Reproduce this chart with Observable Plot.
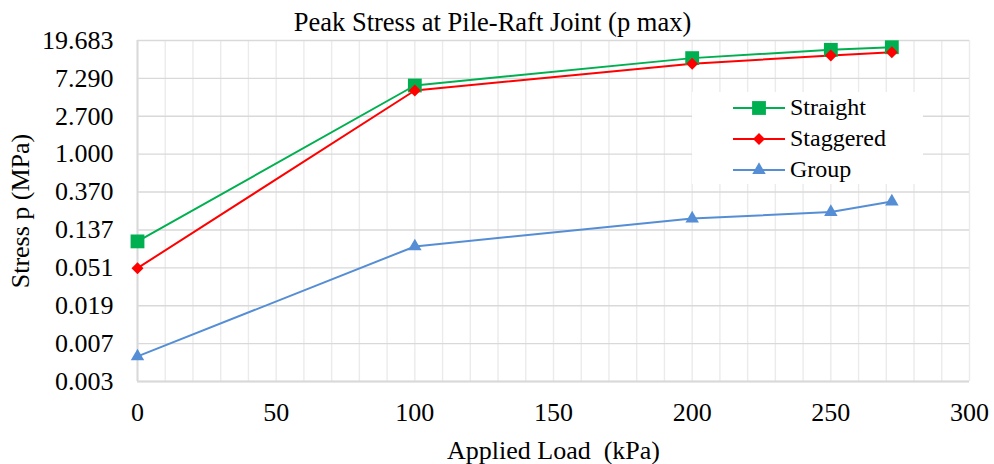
<!DOCTYPE html>
<html><head><meta charset="utf-8">
<script src="https://cdn.jsdelivr.net/npm/d3@7"></script>
<script src="https://cdn.jsdelivr.net/npm/@observablehq/plot@0.6"></script>
<style>
body{margin:0;background:#fff;}
#wrap{position:relative;width:994px;height:464px;font-family:"Liberation Serif",serif;color:#000;}
#chart svg{display:block;}
#legend{position:absolute;left:692px;top:92px;width:231px;height:92px;background:#fff;}
.row{height:31px;display:flex;align-items:center;padding-left:41px;font-size:24px;}
.row svg{display:block;margin-right:5px;}
</style></head>
<body><div id="wrap"><div id="chart"></div><div id="legend"></div></div>
<script>
const chartTitle = "Peak Stress at Pile-Raft Joint (p max)";
const xLabel = "Applied Load\u00a0 (kPa)";
const yLabel = "Stress p (MPa)";
const loads = [0, 100, 200, 250, 272];
const seriesNames = ["Straight", "Staggered", "Group"];
const straight = [0.1016, 6.05, 12.4, 15.4, 16.5];
const staggered = [0.0504, 5.31, 10.7, 13.3, 14.5];
const group = [0.00498, 0.089, 0.185, 0.219, 0.289];
const seriesColors = ["#00b050", "#ff0000", "#558ed5"];
const seriesSymbols = ["square", "diamond2", "triangle"];
const seriesRadius = [7.8, 5.4, 5];
const xTicks = [0, 50, 100, 150, 200, 250, 300];
const xGrid = [0,10,20,30,40,50,60,70,80,90,100,110,120,130,140,150,160,170,180,190,200,210,220,230,240,250,260,270,280,290,300];
const yBase = 2.7;
const yTickExponents = [-6, -5, -4, -3, -2, -1, 0, 1, 2, 3];
const yTickLabels = ["0.003", "0.007", "0.019", "0.051", "0.137", "0.370", "1.000", "2.700", "7.290", "19.683"];

const seriesValues = [straight, staggered, group];
const yTickValues = yTickExponents.map(e => Math.pow(yBase, e));
const labelOf = new Map(yTickValues.map((v, i) => [v, yTickLabels[i]]));
const rows = seriesNames.flatMap((s, i) => loads.map((x, j) => ({series: s, load: x, stress: seriesValues[i][j]})));

const dotMarks = seriesNames.map((s, i) =>
  Plot.dot(rows.filter(d => d.series === s), {x: "load", y: "stress", fill: "series", symbol: "series", r: seriesRadius[i], stroke: "none"}));

const chart = Plot.plot({
  width: 994, height: 464,
  marginLeft: 137, marginRight: 25, marginTop: 40, marginBottom: 83,
  style: {fontFamily: "Liberation Serif, serif", fontSize: "26px", color: "#000", background: "#fff"},
  x: {domain: [0, 300]},
  y: {type: "log", base: yBase, domain: [yTickValues[0], yTickValues[yTickValues.length - 1]]},
  color: {domain: seriesNames, range: seriesColors},
  symbol: {domain: seriesNames, range: seriesSymbols},
  marks: [
    Plot.ruleX(xGrid, {stroke: "#ebebeb", strokeWidth: 1.4}),
    Plot.ruleY(yTickValues, {stroke: "#d9d9d9", strokeWidth: 1.4}),
    Plot.ruleX([0], {stroke: "#d9d9d9", strokeWidth: 2}),
    Plot.ruleY([yTickValues[0]], {stroke: "#d9d9d9", strokeWidth: 2}),
    Plot.axisX({ticks: xTicks, tickSize: 0, tickPadding: 21, fontSize: 26, label: xLabel, labelAnchor: "center", labelOffset: 77, labelArrow: "none"}),
    Plot.axisY({ticks: yTickValues, tickFormat: d => labelOf.get(d), tickSize: 0, tickPadding: 24, fontSize: 26, label: yLabel, labelAnchor: "center", labelOffset: 127, labelArrow: "none"}),
    Plot.text([chartTitle], {frameAnchor: "top", lineAnchor: "middle", dy: -18, dx: -61, fontSize: 26.5, fill: "#000"}),
    Plot.line(rows, {x: "load", y: "stress", z: "series", stroke: "series", strokeWidth: 2}),
    ...dotMarks
  ]
});
document.getElementById("chart").appendChild(chart);

const legend = document.getElementById("legend");
const symbolPaths = seriesSymbols.map((name, i) => {
  const sym = {square: d3.symbolSquare, diamond2: d3.symbolDiamond2, triangle: d3.symbolTriangle}[name];
  return d3.symbol(sym, Math.PI * seriesRadius[i] * seriesRadius[i])();
});
seriesNames.forEach((s, i) => {
  const row = document.createElement("div");
  row.className = "row";
  row.innerHTML = `<svg width="52" height="20" viewBox="0 0 52 20"><line x1="0" x2="52" y1="10" y2="10" stroke="${seriesColors[i]}" stroke-width="2"/><path transform="translate(26,10)" d="${symbolPaths[i]}" fill="${seriesColors[i]}"/></svg><span>${s}</span>`;
  legend.appendChild(row);
});
</script>
</body></html>
